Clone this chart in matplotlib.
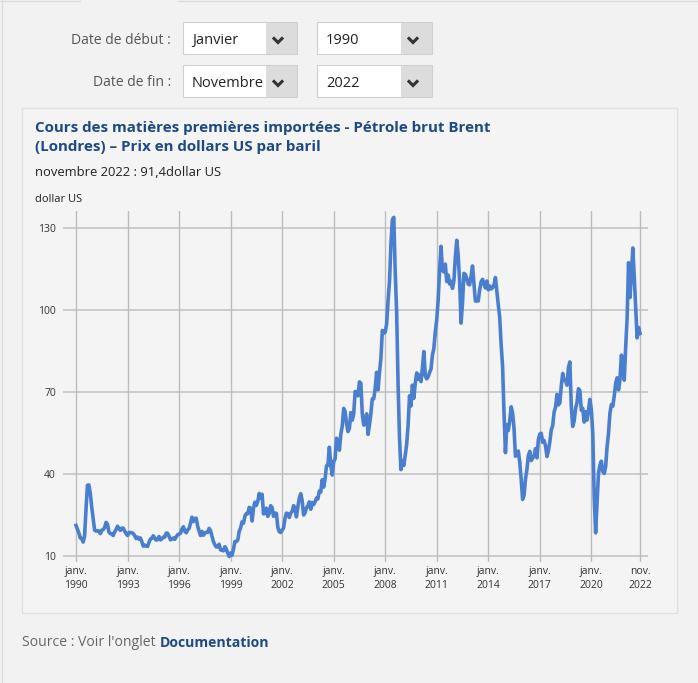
import numpy as np
import matplotlib
matplotlib.use('Agg')
import matplotlib.pyplot as plt
from matplotlib.patches import Rectangle
from matplotlib.lines import Line2D

# prix mensuels du Brent, janv. 1990 -> nov. 2022 (dollar US / baril)
p1990 = [21.2, 19.8, 18.4, 16.6, 16.4, 15.1, 17.2, 27.2, 35.9, 36.0, 32.9, 27.8]
p1991 = [23.6, 19.5, 19.1, 19.2, 19.2, 18.2, 19.4, 19.7, 20.4, 22.3, 21.6, 18.7]
p1992 = [18.2, 18.0, 17.5, 18.8, 19.7, 20.9, 20.1, 19.4, 20.2, 20.2, 19.1, 18.2]
p1993 = [17.5, 18.6, 18.6, 18.5, 18.2, 17.4, 16.4, 16.9, 16.1, 16.6, 15.2, 13.6]
p1994 = [14.0, 13.6, 13.5, 15.0, 16.2, 16.5, 17.4, 16.5, 15.8, 16.1, 17.1, 15.9]
p1995 = [16.3, 16.9, 16.9, 18.4, 18.3, 17.2, 15.9, 16.2, 16.6, 16.1, 17.0, 17.8]
p1996 = [18.0, 18.3, 19.8, 20.7, 19.1, 18.5, 19.5, 20.1, 22.0, 24.2, 22.6, 23.7]
p1997 = [23.8, 20.9, 19.1, 17.5, 19.0, 17.6, 18.5, 18.6, 18.6, 20.1, 19.3, 17.2]
p1998 = [15.3, 14.1, 13.3, 13.4, 14.3, 12.2, 12.1, 11.9, 13.4, 12.6, 11.0, 9.8]
p1999 = [11.1, 10.3, 12.5, 15.3, 15.3, 15.8, 19.0, 20.3, 22.5, 22.0, 24.6, 25.5]
p2000 = [25.5, 27.8, 27.5, 22.8, 27.5, 29.7, 28.5, 30.0, 32.9, 31.1, 32.6, 25.4]
p2001 = [25.6, 27.5, 24.5, 25.6, 28.4, 27.7, 24.5, 25.7, 25.6, 20.5, 18.9, 18.6]
p2002 = [19.4, 20.3, 23.7, 25.7, 25.4, 24.1, 25.7, 26.3, 28.4, 27.5, 24.3, 28.0]
p2003 = [31.2, 32.8, 30.3, 25.0, 25.8, 27.6, 28.4, 29.8, 27.1, 29.6, 28.8, 29.8]
p2004 = [31.2, 30.9, 33.8, 33.4, 37.9, 35.2, 38.2, 43.0, 43.3, 49.8, 43.1, 39.6]
p2005 = [44.5, 45.5, 53.1, 51.9, 48.7, 54.6, 57.5, 64.0, 62.8, 58.5, 55.5, 56.7]
p2006 = [62.5, 59.7, 62.0, 70.2, 69.8, 68.6, 73.7, 73.2, 61.9, 57.9, 58.8, 62.0]
p2007 = [54.5, 58.0, 62.1, 67.5, 67.5, 71.3, 77.2, 70.8, 77.1, 82.3, 92.5, 91.5]
p2008 = [91.9, 94.8, 103.3, 110.4, 123.9, 133.0, 133.9, 113.9, 99.1, 72.8, 53.2, 41.6]
p2009 = [44.9, 43.1, 46.8, 50.9, 57.9, 68.6, 64.9, 72.5, 67.7, 73.2, 77.0, 74.7]
p2010 = [76.2, 73.8, 78.8, 84.8, 75.9, 74.8, 75.6, 77.1, 78.4, 83.5, 86.1, 92.0]
p2011 = [96.5, 103.7, 114.6, 123.3, 114.5, 113.9, 116.8, 110.4, 112.8, 109.5, 110.5, 107.9]
p2012 = [110.7, 119.3, 125.5, 119.8, 110.3, 95.2, 102.6, 113.4, 113.0, 111.5, 109.5, 109.2]
p2013 = [112.3, 116.1, 109.5, 103.3, 103.3, 103.3, 107.4, 110.3, 111.2, 109.5, 108.1, 110.6]
p2014 = [107.4, 108.8, 107.7, 108.1, 109.2, 111.9, 106.9, 101.9, 97.3, 87.3, 79.4, 62.3]
p2015 = [47.8, 58.1, 55.9, 59.5, 64.6, 62.3, 56.6, 46.5, 47.6, 48.4, 44.3, 38.0]
p2016 = [30.7, 32.2, 38.2, 41.6, 46.7, 48.3, 44.9, 45.8, 46.6, 49.3, 45.9, 52.6]
p2017 = [54.6, 54.9, 51.6, 52.3, 50.3, 46.4, 48.5, 51.7, 56.2, 57.6, 62.7, 64.4]
p2018 = [69.1, 65.3, 66.0, 72.1, 76.8, 74.4, 74.3, 72.5, 78.9, 81.0, 64.8, 57.4]
p2019 = [59.4, 64.0, 66.1, 71.2, 70.5, 63.3, 64.0, 59.0, 62.8, 59.7, 63.2, 67.3]
p2020 = [63.6, 55.0, 32.0, 18.5, 29.4, 40.3, 43.2, 44.7, 40.9, 40.2, 42.7, 49.9]
p2021 = [54.8, 62.3, 65.4, 64.8, 68.5, 73.2, 75.2, 70.8, 74.5, 83.5, 81.1, 74.3]
p2022 = [86.5, 97.1, 117.3, 104.6, 113.3, 122.7, 111.9, 100.5, 89.8, 93.6, 91.4]

prix = (p1990 + p1991 + p1992 + p1993 + p1994 + p1995 + p1996 + p1997 + p1998
        + p1999 + p2000 + p2001 + p2002 + p2003 + p2004 + p2005 + p2006 + p2007
        + p2008 + p2009 + p2010 + p2011 + p2012 + p2013 + p2014 + p2015 + p2016
        + p2017 + p2018 + p2019 + p2020 + p2021 + p2022)

tick_mois = [0, 36, 72, 108, 144, 180, 216, 252, 288, 324, 360, 394]
tick_labels = ['janv.\n1990', 'janv.\n1993', 'janv.\n1996', 'janv.\n1999',
               'janv.\n2002', 'janv.\n2005', 'janv.\n2008', 'janv.\n2011',
               'janv.\n2014', 'janv.\n2017', 'janv.\n2020', 'nov.\n2022']
y_ticks = [10, 40, 70, 100, 130]

W, H = 698, 683
BLEU = '#1d4a87'
plt.rcParams['font.family'] = ['Open Sans', 'DejaVu Sans']

fig = plt.figure(figsize=(W / 100, H / 100), dpi=100, facecolor='#f2f2f2')


def fx(x):
    return x / W


def fy(y):
    return 1 - y / H


def rect(x0, y0, x1, y1, **kw):
    fig.patches.append(Rectangle((fx(x0), fy(y1)), fx(x1) - fx(x0), fy(y0) - fy(y1),
                                 transform=fig.transFigure, figure=fig, **kw))


def chevron(cx, cy):
    fig.lines.append(Line2D([fx(cx - 4), fx(cx), fx(cx + 4)],
                            [fy(cy - 2.5), fy(cy + 1.5), fy(cy - 2.5)],
                            transform=fig.transFigure, color='#333333', lw=2.2,
                            solid_joinstyle='miter'))


# bordure de l'onglet en haut
fig.lines.append(Line2D([0, fx(80)], [fy(0.5), fy(0.5)], transform=fig.transFigure,
                        color='#dcdcdc', lw=1))
fig.lines.append(Line2D([fx(178), 1], [fy(0.5), fy(0.5)], transform=fig.transFigure,
                        color='#dcdcdc', lw=1))
fig.lines.append(Line2D([fx(1.5), fx(1.5)], [1, 0], transform=fig.transFigure,
                        color='#dcdcdc', lw=1))

# listes deroulantes
rows = [(22, 54, 'Date de début :', 'Janvier', '1990'),
        (65, 97, 'Date de fin :', 'Novembre', '2022')]
for y0, y1, lab, mois, an in rows:
    ym = (y0 + y1) / 2
    fig.text(fx(171), fy(ym + 2), lab, ha='right', va='center', fontsize=10, color='#555555')
    for bx0, bx1, txt in [(183, 297, mois), (317, 432, an)]:
        rect(bx0, y0, bx1, y1, facecolor='white', edgecolor='#cfcfcf', lw=0.8)
        rect(bx1 - 31, y0 + 0.5, bx1 - 0.5, y1 - 0.5, facecolor='#dcdcdc', edgecolor='none')
        fig.text(fx(bx0 + 9), fy(ym + 2.5), txt, ha='left', va='center', fontsize=10.5,
                 color='#222222')
        chevron(bx1 - 19, ym + 3)

# cadre du graphique
rect(22, 108, 677, 613, facecolor='#f4f4f4', edgecolor='#e0e0e0', lw=1)
fig.text(fx(35), fy(128), 'Cours des matières premières importées - Pétrole brut Brent',
         ha='left', va='center', fontsize=10.9, fontweight='bold', color=BLEU)
fig.text(fx(35), fy(147), '(Londres) – Prix en dollars US par baril',
         ha='left', va='center', fontsize=10.9, fontweight='bold', color=BLEU)
fig.text(fx(35), fy(173), 'novembre 2022 : 91,4dollar US', ha='left', va='center',
         fontsize=9.35, color='#222222')
fig.text(fx(35), fy(199), 'dollar US', ha='left', va='center', fontsize=8,
         color='#222222')

# zone de trace
px_per = 82 / 30
y_top = 10 + (556 - 211) / px_per
y_bot = 10 - (562 - 556) / px_per
m_per = 564 / 394
ax = fig.add_axes([fx(63), fy(562), fx(648) - fx(63), fy(211) - fy(562)])
ax.set_zorder(5)
ax.set_facecolor('none')
ax.plot(np.arange(len(prix)), prix, color='#4a7fd0', lw=2.6, solid_joinstyle='round',
        zorder=3)
ax.set_xlim(-13 / m_per, 394 + 8 / m_per)
ax.set_ylim(y_bot, y_top)
ax.set_xticks(tick_mois)
ax.set_xticklabels(tick_labels, fontsize=7.5, color='#333333', linespacing=1.35)
ax.set_yticks(y_ticks)
ax.set_yticklabels([str(v) for v in y_ticks], fontsize=7.5, color='#333333')
ax.tick_params(length=0, pad=5)
ax.tick_params(axis='x', pad=3)
for s in ax.spines.values():
    s.set_visible(False)
ax.grid(axis='x', color='#bdbdbd', lw=1)
for v in y_ticks:
    ax.axhline(v, color='#c8c8c8', lw=1.3, zorder=1)

# source
t = fig.text(fx(22), fy(643), "Source : Voir l'onglet", ha='left', va='center',
             fontsize=10.1, color='#666666')
fig.canvas.draw()
bb = t.get_window_extent()
fig.text(bb.x1 / W + fx(4), fy(643), 'Documentation', ha='left', va='center',
         fontsize=10.1, fontweight='bold', color=BLEU)

fig.savefig('out.png', dpi=100, facecolor=fig.get_facecolor())
